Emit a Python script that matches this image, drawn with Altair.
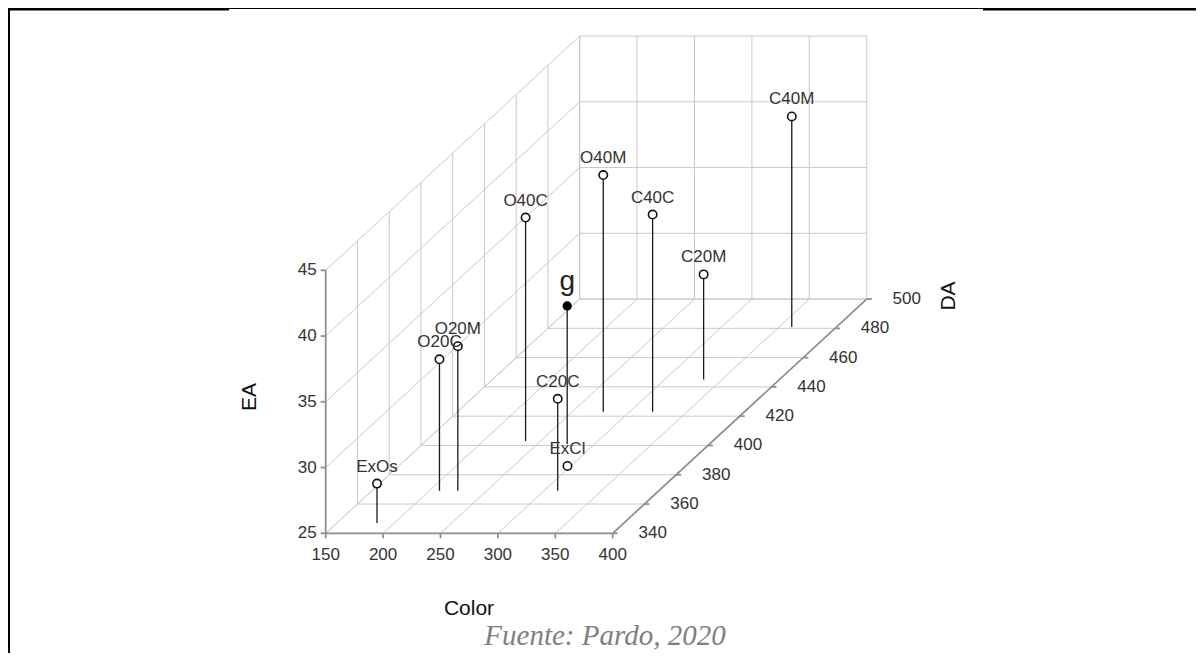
import altair as alt
import pandas as pd

# ---------------- data ----------------
names = ["ExOs", "O20C", "O20M", "C20C", "ExCl", "O40C", "O40M", "C40C", "C20M", "C40M"]
color_vals = [185, 209, 225, 312, 297, 237, 277, 320, 334, 361]
da_vals = [347, 369, 369, 369, 386, 403, 423, 423, 445, 481]
ea_vals = [28, 35, 36, 32, 25, 42, 43, 40, 33, 41]

g_names = ["g"]
g_color = [276]
g_da = [401]
g_ea = [35.5]

color_ticks = [150, 200, 250, 300, 350, 400]
ea_ticks = [25, 30, 35, 40, 45]
da_ticks = [340, 360, 380, 400, 420, 440, 460, 480, 500]

# ---------------- projection / layout ----------------
W, H = 1188, 645
PX_C = 1.148      # px per Color unit
PX_E = 13.15      # px per EA unit
DX_D = 1.5875     # px right per DA unit
DY_D = 1.464      # px up per DA unit
KX = DX_D / PX_C
KY = DY_D / PX_E
OX, OY = 317.7, 525.3   # plot-pixel position of (150, 340, 25)
C0, D0, E0 = 150, 340, 25

xs = alt.Scale(domain=[C0 - OX / PX_C, C0 + (W - OX) / PX_C], nice=False, zero=False)
ys = alt.Scale(domain=[E0 - (H - OY) / PX_E, E0 + OY / PX_E], nice=False, zero=False)

def px(c, d):
    return f"{c} + ({d} - {D0}) * {KX}"

def py(e, d):
    return f"{e} + ({d} - {D0}) * {KY}"

FONT = "Liberation Sans"

# ---------------- segments ----------------
def segs(rows):
    return pd.DataFrame(rows, columns=["c1", "d1", "e1", "c2", "d2", "e2"])

grid_rows = []
for c in color_ticks:                       # back wall verticals
    grid_rows.append((c, 500, 25, c, 500, 45))
for e in ea_ticks:                          # back wall horizontals
    grid_rows.append((150, 500, e, 400, 500, e))
for d in da_ticks:                          # left wall verticals
    grid_rows.append((150, d, 25, 150, d, 45))
for e in ea_ticks:                          # left wall diagonals
    grid_rows.append((150, 340, e, 150, 500, e))
for d in da_ticks:                          # floor lines along Color
    grid_rows.append((150, d, 25, 400, d, 25))
for c in color_ticks:                       # floor diagonals
    grid_rows.append((c, 340, 25, c, 500, 25))
grid_df = segs(grid_rows)

axis_rows = [(150, 340, 25, 150, 340, 45),
             (150, 340, 25, 400, 340, 25),
             (400, 340, 25, 400, 500, 25)]
for e in ea_ticks:
    axis_rows.append((150 - 4.4, 340, e, 150, 340, e))
for c in color_ticks:
    axis_rows.append((c, 340, 25 - 0.38, c, 340, 25))
for d in da_ticks:
    axis_rows.append((400, d, 25, 404.4, d, 25))
axis_df = segs(axis_rows)

pts_df = pd.DataFrame({"name": names, "c": color_vals, "d": da_vals, "e": ea_vals})
g_df = pd.DataFrame({"name": g_names, "c": g_color, "d": g_da, "e": g_ea})
all_pts = pd.concat([pts_df, g_df], ignore_index=True)
drop_df = pd.DataFrame({"c1": all_pts["c"], "d1": all_pts["d"], "e1": all_pts["e"],
                        "c2": all_pts["c"], "d2": all_pts["d"], "e2": 25})


def seg_layer(df, color, width):
    return alt.Chart(df).transform_calculate(
        X1=px("datum.c1", "datum.d1"), Y1=py("datum.e1", "datum.d1"),
        X2=px("datum.c2", "datum.d2"), Y2=py("datum.e2", "datum.d2"),
    ).mark_rule(color=color, strokeWidth=width).encode(
        x=alt.X("X1:Q", scale=xs, axis=None),
        y=alt.Y("Y1:Q", scale=ys, axis=None),
        x2="X2:Q", y2="Y2:Q",
    )


def pt_chart(df):
    return alt.Chart(df).transform_calculate(
        X=px("datum.c", "datum.d"), Y=py("datum.e", "datum.d"))


def enc_xy():
    return dict(x=alt.X("X:Q", scale=xs, axis=None), y=alt.Y("Y:Q", scale=ys, axis=None))


grid = seg_layer(grid_df, "#c9c9c9", 1)
axes = seg_layer(axis_df, "#8f8f8f", 1.8)
drops = seg_layer(drop_df, "#1a1a1a", 1.3)

open_pts = pt_chart(pts_df).mark_point(
    shape="circle", size=70, fill="white", fillOpacity=1, stroke="#111", strokeWidth=1.6, opacity=1
).encode(**enc_xy())
g_pt = pt_chart(g_df).mark_point(
    shape="circle", size=85, filled=True, color="#000", opacity=1
).encode(**enc_xy())

pt_labels = pt_chart(pts_df).mark_text(
    font=FONT, fontSize=17, color="#333", baseline="alphabetic", align="center", dy=-12
).encode(text="name:N", **enc_xy())
g_label = pt_chart(g_df).mark_text(
    font=FONT, fontSize=28, color="#222", baseline="alphabetic", align="center", dy=-16
).encode(text="name:N", **enc_xy())

# tick labels
ea_lab = pt_chart(pd.DataFrame({"c": 150, "d": 340, "e": ea_ticks, "t": [str(v) for v in ea_ticks]})).mark_text(
    font=FONT, fontSize=17, color="#333", align="right", baseline="middle", dx=-9
).encode(text="t:N", **enc_xy())
col_lab = pt_chart(pd.DataFrame({"c": color_ticks, "d": 340, "e": 25, "t": [str(v) for v in color_ticks]})).mark_text(
    font=FONT, fontSize=17, color="#333", align="center", baseline="middle", dy=22
).encode(text="t:N", **enc_xy())
da_lab = pt_chart(pd.DataFrame({"c": 400, "d": da_ticks, "e": 25, "t": [str(v) for v in da_ticks]})).mark_text(
    font=FONT, fontSize=17, color="#333", align="center", baseline="middle", dx=40
).encode(text="t:N", **enc_xy())

one = pd.DataFrame({"a": [0]})
title_ea = alt.Chart(one).mark_text(font=FONT, fontSize=21, color="#111", angle=270,
                                    align="center", baseline="middle", text="EA").encode(
    x=alt.value(242), y=alt.value(389))
title_col = alt.Chart(one).mark_text(font=FONT, fontSize=21, color="#111",
                                     align="center", baseline="middle", text="Color").encode(
    x=alt.value(461), y=alt.value(601))
title_da = alt.Chart(one).mark_text(font=FONT, fontSize=21, color="#111", angle=270,
                                    align="center", baseline="middle", text="DA").encode(
    x=alt.value(941), y=alt.value(288))
caption = alt.Chart(one).mark_text(font="Liberation Serif", fontSize=29, fontStyle="italic",
                                   color="#7f7f7f", align="center", baseline="alphabetic",
                                   text="Fuente: Pardo, 2020").encode(
    x=alt.value(597), y=alt.value(637))

# document frame lines
frame_top1 = alt.Chart(one).mark_rule(color="black", strokeWidth=2.5).encode(
    x=alt.value(0), x2=alt.value(221), y=alt.value(1.2))
frame_top2 = alt.Chart(one).mark_rule(color="black", strokeWidth=1).encode(
    x=alt.value(221), x2=alt.value(975), y=alt.value(0.5))
frame_top3 = alt.Chart(one).mark_rule(color="black", strokeWidth=2.5).encode(
    x=alt.value(975), x2=alt.value(W), y=alt.value(1.2))
frame_left = alt.Chart(one).mark_rule(color="black", strokeWidth=2).encode(
    x=alt.value(1), y=alt.value(0), y2=alt.value(H))

chart = alt.layer(
    grid, axes, drops, open_pts, g_pt, pt_labels, g_label,
    ea_lab, col_lab, da_lab, title_ea, title_col, title_da, caption,
    frame_top1, frame_top2, frame_top3, frame_left,
).properties(
    width=W, height=H,
    autosize=alt.AutoSizeParams(type="none"),
    padding=0,
    background="white",
).configure_view(stroke=None)

chart.save("out.html", embed_options={"renderer": "svg", "actions": False})
